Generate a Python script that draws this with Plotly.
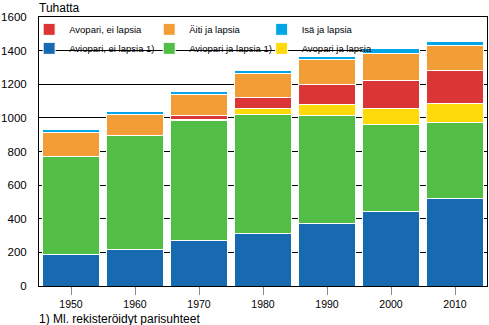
import plotly.graph_objects as go

years = ["1950", "1960", "1970", "1980", "1990", "2000", "2010"]

aviopari_ei_lapsia = [186, 215, 269, 311, 370, 442, 519]
aviopari_ja_lapsia = [587, 679, 718, 708, 643, 518, 452]
avopari_ja_lapsia = [0, 0, 4, 36, 65, 98, 115]
avopari_ei_lapsia = [0, 0, 24, 65, 121, 163, 195]
aiti_ja_lapsia = [141, 129, 127, 141, 147, 161, 149]
isa_ja_lapsia = [18, 17, 16, 22, 22, 28, 27]

y_ticks = [0, 200, 400, 600, 800, 1000, 1200, 1400, 1600]

# name, values, colour, legend column, row within column
series = [
    ("Aviopari, ei lapsia 1)", aviopari_ei_lapsia, "#1769B0", "legend", 2),
    ("Aviopari ja lapsia 1)", aviopari_ja_lapsia, "#52BE45", "legend2", 2),
    ("Avopari ja lapsia", avopari_ja_lapsia, "#FFDA0A", "legend3", 2),
    ("Avopari, ei lapsia", avopari_ei_lapsia, "#DC3535", "legend", 1),
    ("Äiti ja lapsia", aiti_ja_lapsia, "#F39D36", "legend2", 1),
    ("Isä ja lapsia", isa_ja_lapsia, "#00A6E6", "legend3", 1),
]

fig = go.Figure()
for name, vals, color, leg, rank in series:
    fig.add_trace(go.Bar(
        x=years, y=vals, name=name, legend=leg, legendrank=rank,
        marker=dict(color=color, line=dict(color="white", width=1)),
    ))

font_family = "Liberation Sans, Arial, sans-serif"

leg_common = dict(
    orientation="v", xanchor="left", yanchor="top", y=1.008,
    font=dict(family=font_family, size=9.5, color="black"),
    bgcolor="rgba(0,0,0,0)", traceorder="normal", itemwidth=30,
    tracegroupgap=0,
)

fig.update_layout(
    width=489, height=325,
    margin=dict(l=37, r=1, t=17, b=39),
    barmode="stack", bargap=0.12,
    plot_bgcolor="white", paper_bgcolor="white",
    font=dict(family=font_family, size=11, color="black"),
    legend=dict(x=-0.022, **leg_common),
    legend2=dict(x=0.246, **leg_common),
    legend3=dict(x=0.497, **leg_common),
    xaxis=dict(
        showline=True, linecolor="black", linewidth=1, mirror=True,
        ticks="outside", ticklen=8, tickcolor="#888888", tickwidth=1,
        tickfont=dict(size=10.5), showgrid=False,
    ),
    yaxis=dict(
        range=[0, 1600], tickvals=y_ticks,
        showline=True, linecolor="black", linewidth=1, mirror=True,
        showgrid=True, gridcolor="black", gridwidth=1,
        ticks="outside", ticklen=9, tickcolor="rgba(0,0,0,0)",
        tickfont=dict(size=11.5), zeroline=False,
    ),
    annotations=[
        dict(text="Tuhatta", xref="paper", yref="paper", x=0, y=1,
             xanchor="left", yanchor="bottom", showarrow=False,
             font=dict(size=12), xshift=-2, yshift=0),
        dict(text="1) Ml. rekisteröidyt parisuhteet", xref="paper", yref="paper",
             x=0, y=0, xanchor="left", yanchor="top", showarrow=False,
             font=dict(size=12), xshift=-2, yshift=-24),
    ],
)

fig.write_html("out.html")
